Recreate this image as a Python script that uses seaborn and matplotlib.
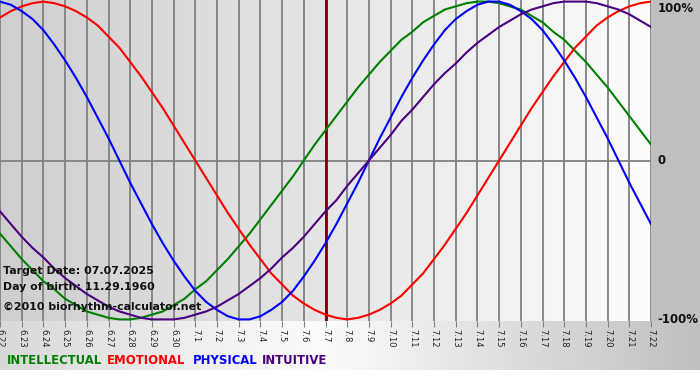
import matplotlib
matplotlib.use("Agg")
import matplotlib.pyplot as plt
import numpy as np
import pandas as pd
import seaborn as sns

# days shown on the chart (6.22 .. 7.22)
days = ["6.22", "6.23", "6.24", "6.25", "6.26", "6.27", "6.28", "6.29", "6.30",
        "7.1", "7.2", "7.3", "7.4", "7.5", "7.6", "7.7", "7.8", "7.9", "7.10",
        "7.11", "7.12", "7.13", "7.14", "7.15", "7.16", "7.17", "7.18", "7.19",
        "7.20", "7.21", "7.22"]
target_day = "7.7"

# values in percent, every half day (6.22, 6.22 noon, 6.23, ...)
physical = [100, 98, 94, 89, 82, 73, 63, 52, 40, 27, 14, 0, -14, -27, -40, -52,
            -63, -73, -82, -89, -94, -98, -100, -100, -98, -94, -89, -82, -73, -63,
            -52, -40, -27, -14, 0, 14, 27, 40, 52, 63, 73, 82, 89, 94, 98, 100,
            100, 98, 94, 89, 82, 73, 63, 52, 40, 27, 14, 0, -14, -27, -40]
emotional = [90, 94, 97, 99, 100, 99, 97, 94, 90, 85, 78, 71, 62, 53, 43, 33,
             22, 11, 0, -11, -22, -33, -43, -53, -62, -71, -78, -85, -90, -94,
             -97, -99, -100, -99, -97, -94, -90, -85, -78, -71, -62, -53, -43, -33,
             -22, -11, 0, 11, 22, 33, 43, 53, 62, 71, 78, 85, 90, 94, 97, 99, 100]
intellectual = [-46, -54, -62, -69, -76, -81, -87, -91, -95, -97, -99, -100, -100,
                -99, -97, -95, -91, -87, -81, -76, -69, -62, -54, -46, -37, -28,
                -19, -10, 0, 10, 19, 28, 37, 46, 54, 62, 69, 76, 81, 87, 91, 95,
                97, 99, 100, 100, 99, 97, 95, 91, 87, 81, 76, 69, 62, 54, 46, 37,
                28, 19, 10]
intuitive = [-32, -40, -48, -55, -61, -68, -74, -79, -84, -88, -92, -95, -97, -99,
             -100, -100, -100, -99, -97, -95, -92, -88, -84, -79, -74, -68, -61,
             -55, -48, -40, -32, -25, -16, -8, 0, 8, 16, 25, 32, 40, 48, 55, 61,
             68, 74, 79, 84, 88, 92, 95, 97, 99, 100, 100, 100, 99, 97, 95, 92,
             88, 84]

series = ["INTELLECTUAL", "EMOTIONAL", "PHYSICAL", "INTUITIVE"]
colors = ["#008000", "#ff0000", "#0000ff", "#4b0082"]

rows = []
for name, vals in zip(series, [intellectual, emotional, physical, intuitive]):
    for i, v in enumerate(vals):
        rows.append({"day": i / 2, "value": v, "cycle": name})
df = pd.DataFrame(rows)

W, H = 700, 380
fig = plt.figure(figsize=(7, 3.8), dpi=100)
fig.patch.set_facecolor("white")

# background: gradient plot area, gray right margin, gradient bottom band
plot_w, plot_h, band_h = 651, 321, 370
img = np.ones((H, W, 3))
xs = np.arange(W)
plot_grad = np.interp(xs, [0, 651], [0.81, 0.99])
band_grad = np.interp(xs, [0, 320, 700], [0.85, 0.99, 0.75])
img[:plot_h, :, :] = plot_grad[None, :, None]
img[:plot_h, plot_w:, :] = 0.75
img[plot_h:band_h, :, :] = band_grad[None, :, None]
bg = fig.add_axes([0, 0, 1, 1], zorder=-1)
bg.imshow(img, aspect="auto", extent=[0, W, H, 0])
bg.axis("off")

ax = fig.add_axes([0, 1 - plot_h / H, plot_w / W, plot_h / H])
ax.set_facecolor("none")

sns.lineplot(data=df, x="day", y="value", hue="cycle", hue_order=series,
             palette=colors, linewidth=1.5, legend=False, ax=ax, zorder=3)

ax.set_xlim(0, len(days) - 1)
ax.set_ylim(-101, 101)
ax.set_xticks(range(len(days)))
ax.set_xticklabels(days, rotation=270, fontsize=6, color="#222222")
ax.tick_params(axis="x", length=4, color="#808080", pad=1.5)
ax.set_yticks([])
ax.set_xlabel("")
ax.set_ylabel("")
for s in ax.spines.values():
    s.set_visible(False)

for i in range(len(days)):
    ax.axvline(i, color="#808080", linewidth=1.3, zorder=1)
ax.axhline(0, color="#808080", linewidth=1.3, zorder=1)
ax.axvline(days.index(target_day), color="#7a0000", linewidth=2, zorder=2)

# right hand scale labels
for yv, lab, va in [(100, "100%", "top"), (0, "0", "center"), (-100, "-100%", "center")]:
    ax.text(1.01, yv, lab, transform=ax.get_yaxis_transform(), fontsize=8.5,
            fontweight="bold", va=va, ha="left", color="#111111", clip_on=False)

# info text
info = [("Target Date: 07.07.2025", 271), ("Day of birth: 11.29.1960", 287),
        ("\u00a92010 biorhythm-calculator.net", 307)]
for txt, py in info:
    fig.text(3 / W, 1 - py / H, txt, fontsize=7.9, fontweight="bold", va="center",
             ha="left", color="#111111", zorder=5)

# colored legend labels
legend_x = [7, 107, 193, 262]
for name, col, px in zip(series, colors, legend_x):
    fig.text(px / W, 1 - 361 / H, name, fontsize=8.4, fontweight="bold",
             color=col, va="center", ha="left")

fig.savefig("out.png", dpi=100)
